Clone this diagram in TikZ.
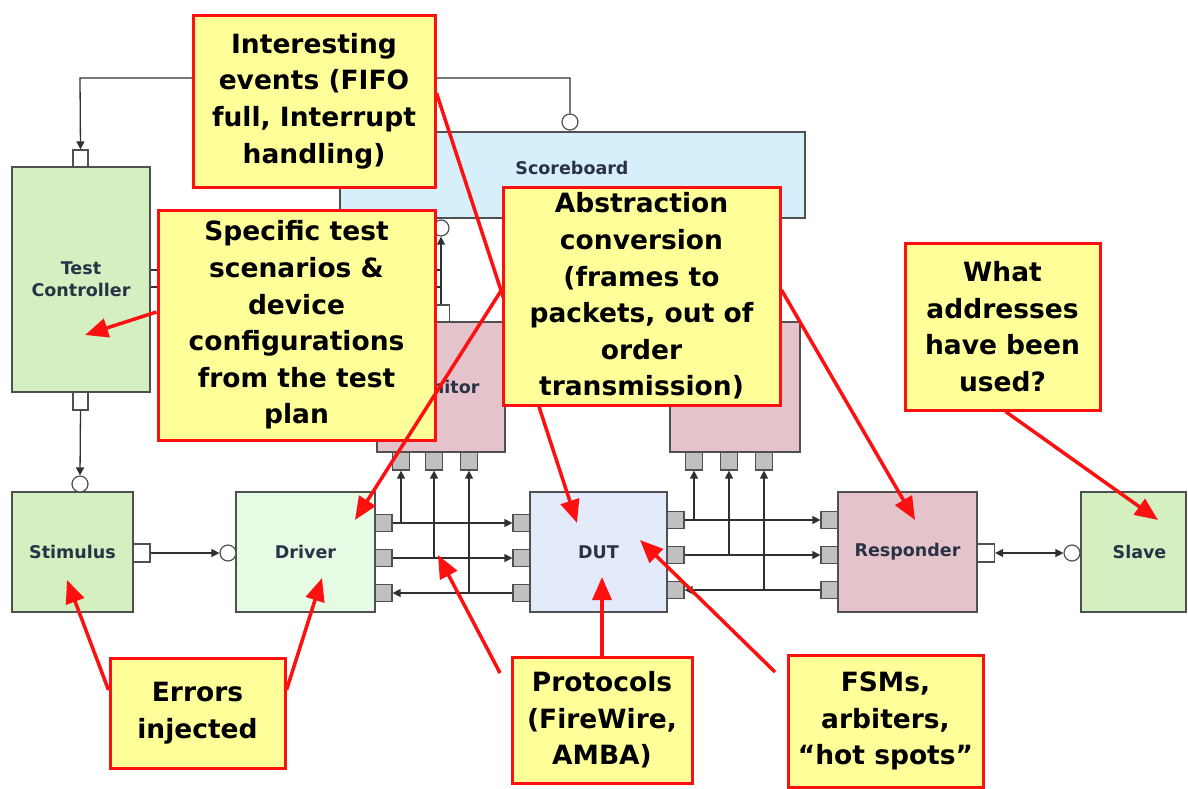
\documentclass[tikz,border=0pt]{standalone}
\usepackage{fontspec}
\setmainfont{DejaVu Sans}
\usetikzlibrary{arrows.meta,calc}
\definecolor{cgreen}{HTML}{D4EFC0}
\definecolor{cdrv}{HTML}{E6FBE3}
\definecolor{cdut}{HTML}{E3EBFB}
\definecolor{csb}{HTML}{D7EEFB}
\definecolor{cpink}{HTML}{E4C3CA}
\definecolor{cport}{HTML}{C0C0C0}
\definecolor{cedge}{HTML}{505050}
\definecolor{cwire}{HTML}{303030}
\definecolor{clbl}{HTML}{2A3245}
\definecolor{cyel}{HTML}{FFFF99}
\definecolor{cred}{HTML}{FF1010}
\begin{document}
\begin{tikzpicture}[x=1pt,y=-1pt,
  blk/.style={draw=cedge,line width=1.5pt,inner sep=0pt,align=center,text=clbl,
    font=\fontsize{17.5}{22}\selectfont\bfseries},
  lbl/.style={inner sep=0pt,text=clbl,font=\fontsize{17.5}{22}\selectfont\bfseries},
  portg/.style={draw=cedge,line width=1.2pt,fill=cport,minimum width=17pt,minimum height=17pt,inner sep=0pt},
  portw/.style={draw=cedge,line width=1.2pt,fill=white,minimum width=17pt,minimum height=17pt,inner sep=0pt},
  circ/.style={circle,draw=cedge,line width=1.2pt,fill=white,minimum size=16pt,inner sep=0pt},
  wire/.style={draw=cwire,line width=1.3pt},
  arr/.style={-{Triangle[length=8pt,width=8pt]}},
  darr/.style={{Triangle[length=8pt,width=8pt]}-{Triangle[length=8pt,width=8pt]}},
  callout/.style={draw=cred,line width=3pt,fill=cyel,inner sep=0pt,align=center,
    font=\fontsize{26.5}{36.6}\selectfont\bfseries},
  rarr/.style={draw=cred,line width=3.5pt,-{Triangle[length=23pt,width=19pt]}}]
\useasboundingbox (0,0) rectangle (1188,788);
\fill[white] (0,0) rectangle (1188,788);

% ---- blocks ----
\node[blk,fill=csb,minimum width=465pt,minimum height=86pt] (sb) at (572.5,175) {};
\node[lbl] (sbl) at (572,168) {Scoreboard};
\node[circ] (sbc) at (570,122) {};
\node[circ] (sbc2) at (441,228) {};

\node[blk,fill=cgreen,minimum width=138pt,minimum height=225pt] (tc) at (81,279.5) {Test\\Controller};
\node[portw,minimum width=15pt] (tcp1) at (80.5,158.5) {};
\node[portw,minimum width=15pt,minimum height=18pt] (tcp2) at (80.5,401) {};

\node[blk,fill=cpink,minimum width=128pt,minimum height=130pt] (mon1) at (441,387) {Monitor};
\node[portw] (mtp) at (441,313.5) {};
\node[portg,minimum height=18pt] (m1a) at (401,461) {};
\node[portg,minimum height=18pt] (m1b) at (434,461) {};
\node[portg,minimum height=18pt] (m1c) at (469,461) {};

\node[blk,fill=cpink,minimum width=130pt,minimum height=130pt] (mon2) at (735,387) {};
\node[portg,minimum height=18pt] (m2a) at (694,461) {};
\node[portg,minimum height=18pt] (m2b) at (729,461) {};
\node[portg,minimum height=18pt] (m2c) at (764,461) {};

\node[blk,fill=cgreen,minimum width=121pt,minimum height=120pt] (st) at (72.5,552) {Stimulus};
\node[circ] (stc) at (80,484) {};
\node[portw,minimum height=18pt] (stp) at (141.5,553) {};

\node[blk,fill=cdrv,minimum width=139pt,minimum height=120pt] (drv) at (305.5,552) {Driver};
\node[circ] (drc) at (228,553) {};
\node[portg] (dp1) at (383.5,523) {};
\node[portg] (dp2) at (383.5,558) {};
\node[portg] (dp3) at (383.5,593) {};

\node[blk,fill=cdut,minimum width=137pt,minimum height=120pt] (dut) at (598.5,552) {DUT};
\node[portg] (ul1) at (521.5,523) {};
\node[portg] (ul2) at (521.5,558) {};
\node[portg] (ul3) at (521.5,593) {};
\node[portg] (ur1) at (675.5,520) {};
\node[portg] (ur2) at (675.5,555) {};
\node[portg] (ur3) at (675.5,590) {};

\node[blk,fill=cpink,minimum width=139pt,minimum height=120pt] (rsp) at (907.5,552) {Responder};
\node[portg] (rl1) at (829.5,520) {};
\node[portg] (rl2) at (829.5,555) {};
\node[portg] (rl3) at (829.5,590) {};
\node[portw,minimum height=18pt] (rrp) at (986,553) {};

\node[blk,fill=cgreen,minimum width=105pt,minimum height=120pt] (sl) at (1133.5,552) {\hspace*{12pt}Slave};
\node[circ] (slc) at (1072,553) {};

% ---- wires ----
\coordinate (topl) at (80,78);
\draw[wire,arr] (sbc.north) |- (topl) -- (tcp1.north);
\draw[wire,arr] (tcp2.south) -- (stc.north);
\draw[wire,arr] (stp.east) -- (drc.west);
\draw[wire,darr] (rrp.east) -- (slc.west);
\draw[wire,arr] (mtp.north) -- (sbc2.south);
\coordinate (tcj1) at (441,270);
\coordinate (tcj2) at (441,287);
\draw[wire] (tc.east |- tcj1) -- (tcj1);
\draw[wire] (tc.east |- tcj2) -- (tcj2);

\draw[wire,arr] (dp1.east) -- (ul1.west);
\draw[wire,arr] (dp2.east) -- (ul2.west);
\draw[wire,arr] (ul3.west) -- (dp3.east);
\draw[wire,arr] (dp1.east -| m1a.south) -- (m1a.south);
\draw[wire,arr] (dp2.east -| m1b.south) -- (m1b.south);
\draw[wire,arr] (dp3.east -| m1c.south) -- (m1c.south);

\draw[wire,arr] (ur1.east) -- (rl1.west);
\draw[wire,arr] (ur2.east) -- (rl2.west);
\draw[wire,arr] (rl3.west) -- (ur3.east);
\draw[wire,arr] (ur1.east -| m2a.south) -- (m2a.south);
\draw[wire,arr] (ur2.east -| m2b.south) -- (m2b.south);
\draw[wire,arr] (ur3.east -| m2c.south) -- (m2c.south);

% ---- callouts ----
\node[callout,minimum width=242pt,minimum height=172pt] (c1) at (314,101)
  {Interesting\\events (FIFO\\full, Interrupt\\handling)};
\node[callout,minimum width=277pt,minimum height=230pt] (c2) at (296.5,325)
  {Specific test\\scenarios \&\\device\\configurations\\from the test\\plan};

\coordinate (tdut) at (577,523);
\draw[rarr] ([yshift=8pt]c1.east) -- (tdut);

\node[callout,minimum width=277pt,minimum height=218pt] (c3) at (641.5,296)
  {Abstraction\\conversion\\(frames to\\packets, out of\\order\\transmission)};
\node[callout,minimum width=195pt,minimum height=167pt] (c4) at (1002.5,326.5)
  {What\\addresses\\have been\\used?};
\node[callout,minimum width=175pt,minimum height=110pt] (c5) at (197.5,713)
  {Errors\\injected};
\node[callout,minimum width=180pt,minimum height=126pt] (c6) at (602,720)
  {Protocols\\(FireWire,\\AMBA)};
\node[callout,minimum width=195pt,minimum height=132pt] (c7) at (885.5,721)
  {FSMs,\\arbiters,\\“hot spots”};

% ---- red arrows ----
\coordinate (ttc) at (85,335);
\coordinate (tdrv) at (355,520);
\coordinate (trsp) at (915,520);
\coordinate (tsl) at (1158,520);
\coordinate (tst) at (67,580);
\coordinate (tdrv2) at (322,578);
\coordinate (tdut2) at (602,577);
\coordinate (pstart) at (500,673);
\coordinate (twire) at (438,555);
\coordinate (fstart) at (775,672);
\coordinate (tdut3) at (640,540);

\draw[rarr] ([yshift=13pt]c2.west) -- (ttc);
\draw[rarr] ([yshift=6pt]c3.west) -- (tdrv);
\draw[rarr] ([yshift=6pt]c3.east) -- (trsp);
\draw[rarr] ([xshift=3pt]c4.south) -- (tsl);
\draw[rarr] ([yshift=23pt]c5.west) -- (tst);
\draw[rarr] ([yshift=23pt]c5.east) -- (tdrv2);
\draw[rarr] (c6.north) -- (tdut2);
\draw[rarr] (pstart) -- (twire);
\draw[rarr] (fstart) -- (tdut3);
\end{tikzpicture}
\end{document}
